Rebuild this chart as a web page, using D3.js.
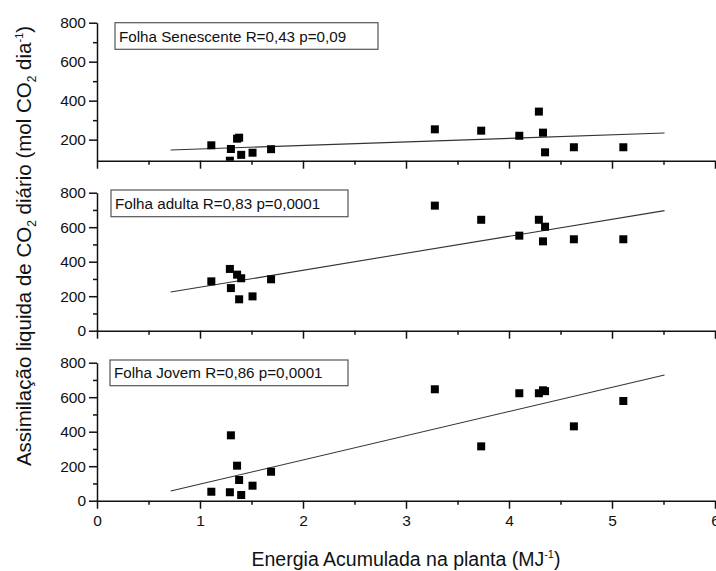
<!DOCTYPE html>
<html>
<head>
<meta charset="utf-8">
<script src="https://d3js.org/d3.v7.min.js"></script>
<style>
  body { margin: 0; background: #fff; }
  text { font-family: "Liberation Sans", Arial, sans-serif; fill: #111; }
  .axis path, .axis line { stroke: #111; stroke-width: 1.5; }
  .axis text { font-size: 15.5px; }
</style>
</head>
<body>
<script>
// energy accumulated in the plant (MJ-1), shared by the three panels
var energia = [1.11, 1.29, 1.30, 1.36, 1.38, 1.40, 1.51, 1.69, 3.28, 3.73, 4.10, 4.29, 4.33, 4.35, 4.63, 5.11];

// net CO2 assimilation per leaf type
var senescente = [171, 92, 152, 205, 210, 122, 133, 151, 253, 246, 220, 344, 236, 135, 161, 161];
var adulta     = [286, 358, 247, 325, 182, 304, 199, 298, 725, 643, 551, 643, 518, 603, 530, 530];
var jovem      = [52, 49, 379, 203, 120, 33, 87, 168, 646, 315, 623, 623, 640, 635, 431, 578];

// fitted lines, read at both ends
var fitX = [0.715, 5.51];
var fitSenescente = [147, 234];
var fitAdulta = [224, 696];
var fitJovem = [56, 729];

var legendas = ["Folha Senescente R=0,43 p=0,09", "Folha adulta R=0,83 p=0,0001", "Folha Jovem R=0,86 p=0,0001"];
var xTicks = [0, 1, 2, 3, 4, 5, 6];
var xMinor = [0.5, 1.5, 2.5, 3.5, 4.5, 5.5];
var yTicks = [0, 200, 400, 600, 800];
var yMinor = [100, 300, 500, 700];

var W = 716, H = 571;
var left = 97, right = 715;
var panelTop = [22.7, 192.7, 362.7], panelH = 138;
var yMin = [92, 0, 0];
var boxes = [{x: 115, y: 22.7, w: 263, h: 26.6}, {x: 111, y: 190, w: 237, h: 26.7}, {x: 110, y: 360, w: 238, h: 25.7}];

var panels = [
  {y: senescente, fit: fitSenescente},
  {y: adulta, fit: fitAdulta},
  {y: jovem, fit: fitJovem}
];

var svg = d3.select("body").append("svg")
  .attr("width", W).attr("height", H);

var x = d3.scaleLinear().domain([0, 6]).range([left, right]);

panels.forEach(function(p, i) {
  var y = d3.scaleLinear().domain([yMin[i], 800]).range([panelTop[i] + panelH, panelTop[i]]);
  var g = svg.append("g");

  g.append("clipPath").attr("id", "clip" + i)
    .append("rect").attr("x", left).attr("y", panelTop[i] - 10)
    .attr("width", right - left).attr("height", panelH + 10);

  var major = yTicks.filter(function(v) { return v >= yMin[i]; });
  var minor = yMinor.filter(function(v) { return v > yMin[i] + 10; });

  g.append("g").attr("class", "axis")
    .attr("transform", "translate(" + left + ",0)")
    .call(d3.axisLeft(y).tickValues(major).tickSize(8).tickSizeOuter(0).tickPadding(3));
  g.append("g").attr("class", "axis")
    .attr("transform", "translate(" + left + ",0)")
    .call(d3.axisLeft(y).tickValues(minor).tickSize(4).tickFormat(""))
    .select(".domain").remove();

  var base = panelTop[i] + panelH;
  var xa = g.append("g").attr("class", "axis")
    .attr("transform", "translate(0," + base + ")")
    .call(d3.axisBottom(x).tickValues(xTicks).tickFormat(d3.format("d"))
      .tickSize(8).tickSizeOuter(0).tickPadding(6));
  if (i < 2) xa.selectAll("text").remove();
  g.append("g").attr("class", "axis")
    .attr("transform", "translate(0," + base + ")")
    .call(d3.axisBottom(x).tickValues(xMinor).tickSize(4).tickFormat(""))
    .select(".domain").remove();

  var plot = g.append("g").attr("clip-path", "url(#clip" + i + ")");

  plot.append("line")
    .attr("x1", x(fitX[0])).attr("y1", y(p.fit[0]))
    .attr("x2", x(fitX[1])).attr("y2", y(p.fit[1]))
    .attr("stroke", "#333").attr("stroke-width", 1.1);

  plot.selectAll("rect.pt").data(energia).enter().append("rect")
    .attr("class", "pt")
    .attr("x", function(d) { return x(d) - 4; })
    .attr("y", function(d, j) { return y(p.y[j]) - 4; })
    .attr("width", 8).attr("height", 8)
    .attr("fill", "#000");

  var b = boxes[i];
  g.append("rect").attr("x", b.x).attr("y", b.y).attr("width", b.w).attr("height", b.h)
    .attr("fill", "#fff").attr("stroke", "#555").attr("stroke-width", 1.2);
  g.append("text").attr("x", b.x + 4).attr("y", b.y + b.h / 2 + 5.5)
    .style("font-size", "15.2px").text(legendas[i]);
});

// axis titles
svg.append("text")
  .attr("x", (left + right) / 2).attr("y", 566)
  .attr("text-anchor", "middle").style("font-size", "19.5px")
  .call(function(t) {
    t.append("tspan").text("Energia Acumulada na planta (MJ");
    t.append("tspan").attr("dy", -8).style("font-size", "11px").text("-1");
    t.append("tspan").attr("dy", 8).text(")");
  });

svg.append("text")
  .attr("transform", "translate(31,246) rotate(-90)")
  .attr("text-anchor", "middle").style("font-size", "20.5px")
  .call(function(t) {
    t.append("tspan").text("Assimilação liquida de CO");
    t.append("tspan").attr("dy", 5).style("font-size", "12px").text("2");
    t.append("tspan").attr("dy", -5).text(" diário (mol CO");
    t.append("tspan").attr("dy", 5).style("font-size", "12px").text("2");
    t.append("tspan").attr("dy", -5).text(" dia");
    t.append("tspan").attr("dy", -8).style("font-size", "11px").text("-1");
    t.append("tspan").attr("dy", 8).text(")");
  });
</script>
</body>
</html>
